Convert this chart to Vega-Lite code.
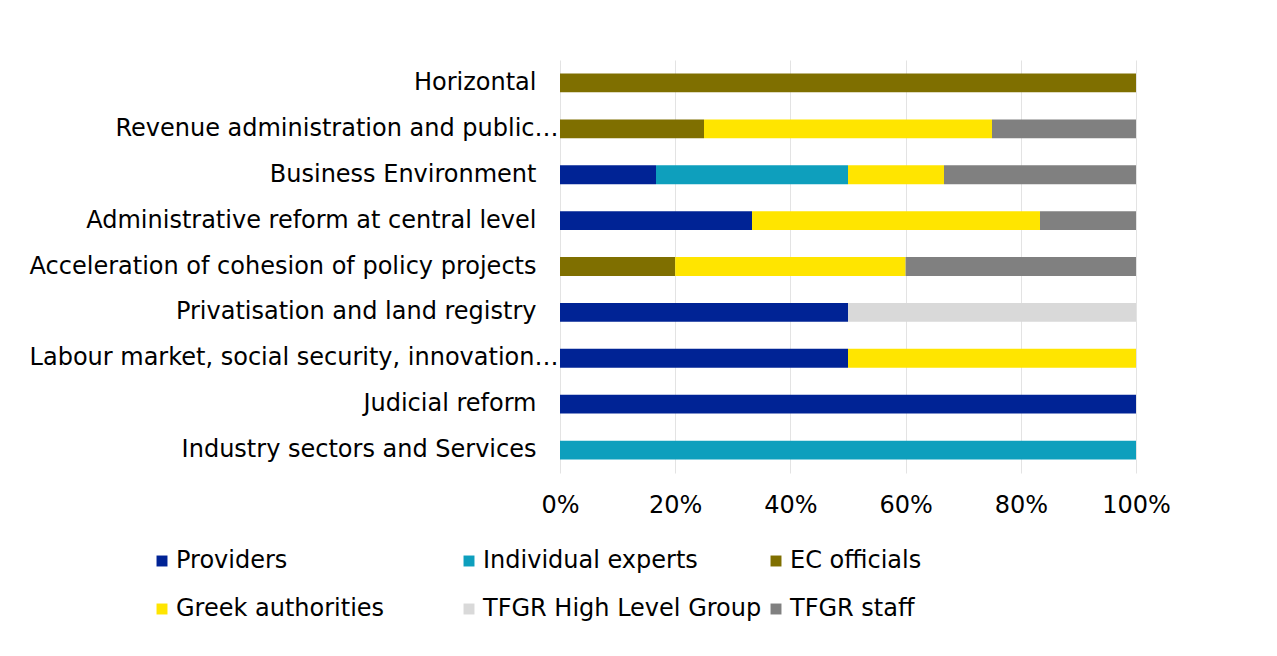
{
  "$schema": "https://vega.github.io/schema/vega-lite/v6.json",
  "width": 576,
  "height": 413,
  "autosize": {"type": "none"},
  "padding": {"left": 560, "top": 60, "right": 141, "bottom": 183},
  "background": "white",
  "config": {
    "view": {"stroke": null},
    "font": "DejaVu Sans",
    "axis": {"labelFont": "DejaVu Sans", "labelFontSize": 24, "labelColor": "#000000"},
    "legend": {"labelFont": "DejaVu Sans", "labelFontSize": 24, "labelColor": "#000000"}
  },
  "data": {
    "values": [
      {"area": "Horizontal", "group": "EC officials", "count": 1},
      {"area": "Revenue administration and public…", "group": "EC officials", "count": 1},
      {"area": "Revenue administration and public…", "group": "Greek authorities", "count": 2},
      {"area": "Revenue administration and public…", "group": "TFGR staff", "count": 1},
      {"area": "Business Environment", "group": "Providers", "count": 1},
      {"area": "Business Environment", "group": "Individual experts", "count": 2},
      {"area": "Business Environment", "group": "Greek authorities", "count": 1},
      {"area": "Business Environment", "group": "TFGR staff", "count": 2},
      {"area": "Administrative reform at central level", "group": "Providers", "count": 2},
      {"area": "Administrative reform at central level", "group": "Greek authorities", "count": 3},
      {"area": "Administrative reform at central level", "group": "TFGR staff", "count": 1},
      {"area": "Acceleration of cohesion of policy projects", "group": "EC officials", "count": 1},
      {"area": "Acceleration of cohesion of policy projects", "group": "Greek authorities", "count": 2},
      {"area": "Acceleration of cohesion of policy projects", "group": "TFGR staff", "count": 2},
      {"area": "Privatisation and land registry", "group": "Providers", "count": 1},
      {"area": "Privatisation and land registry", "group": "TFGR High Level Group", "count": 1},
      {"area": "Labour market, social security, innovation…", "group": "Providers", "count": 1},
      {"area": "Labour market, social security, innovation…", "group": "Greek authorities", "count": 1},
      {"area": "Judicial reform", "group": "Providers", "count": 1},
      {"area": "Industry sectors and Services", "group": "Individual experts", "count": 1}
    ]
  },
  "transform": [
    {"calculate": "indexof(['Providers', 'Individual experts', 'EC officials', 'Greek authorities', 'TFGR High Level Group', 'TFGR staff'], datum.group)", "as": "groupOrder"}
  ],
  "mark": {"type": "bar"},
  "encoding": {
    "y": {
      "field": "area",
      "type": "nominal",
      "sort": [
        "Horizontal",
        "Revenue administration and public…",
        "Business Environment",
        "Administrative reform at central level",
        "Acceleration of cohesion of policy projects",
        "Privatisation and land registry",
        "Labour market, social security, innovation…",
        "Judicial reform",
        "Industry sectors and Services"
      ],
      "scale": {"paddingInner": 0.59, "paddingOuter": 0.295},
      "axis": {
        "title": null,
        "domain": false,
        "ticks": false,
        "labelPadding": {"expr": "indexof(datum.label, '…') >= 0 ? 2 : 24"},
        "labelLimit": 700
      }
    },
    "x": {
      "field": "count",
      "type": "quantitative",
      "stack": "normalize",
      "scale": {"domain": [0, 1], "nice": false},
      "axis": {
        "title": null,
        "format": "%",
        "values": [0, 0.2, 0.4, 0.6, 0.8, 1],
        "domain": false,
        "ticks": false,
        "grid": true,
        "gridColor": "#e3e3e3",
        "gridWidth": 1,
        "labelPadding": 20,
        "labelFlush": false
      }
    },
    "order": {"field": "groupOrder", "type": "quantitative", "sort": "ascending"},
    "color": {
      "field": "group",
      "type": "nominal",
      "sort": ["Providers", "Individual experts", "EC officials", "Greek authorities", "TFGR High Level Group", "TFGR staff"],
      "scale": {
        "domain": ["Providers", "Individual experts", "EC officials", "Greek authorities", "TFGR High Level Group", "TFGR staff"],
        "range": ["#002395", "#0E9FBD", "#7F6F00", "#FFE500", "#D9D9D9", "#808080"]
      },
      "legend": {
        "title": null,
        "orient": "none",
        "legendX": -410,
        "legendY": 489,
        "direction": "horizontal",
        "columns": 3,
        "gridAlign": "all",
        "columnPadding": 2,
        "rowPadding": 24,
        "symbolType": "square",
        "symbolSize": 120,
        "symbolStrokeWidth": 0,
        "labelOffset": 2,
        "labelLimit": 600
      }
    }
  }
}
